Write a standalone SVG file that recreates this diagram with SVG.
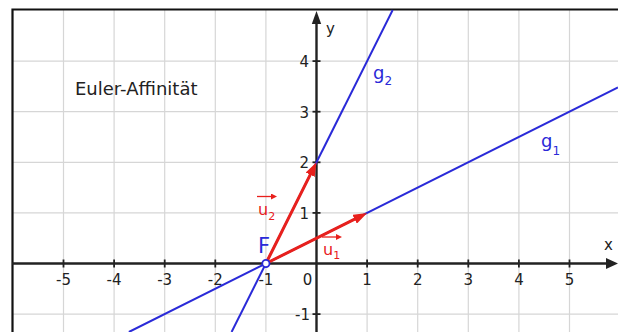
<svg xmlns="http://www.w3.org/2000/svg" width="618" height="332" viewBox="0 0 618 332">
<style>
.grid line{stroke:#d6d6d6;stroke-width:1.2}
.axis{stroke:#222;stroke-width:2.4;fill:none}
.tick{stroke:#222;stroke-width:1.8}
.lbl{font-family:"DejaVu Sans",Verdana,sans-serif;font-size:15px;fill:#222}
.blue{stroke:#2a2ad8;stroke-width:2;fill:none}
.vec{stroke:#e8201c;stroke-width:3;fill:none}
.small{stroke:#e8201c;stroke-width:1.3;fill:none}
.bt{font-family:"DejaVu Sans",Verdana,sans-serif;fill:#2a2ad8}
.rt{font-family:"DejaVu Sans",Verdana,sans-serif;fill:#e8201c}
</style>
<defs>
<marker id="ah" markerUnits="userSpaceOnUse" markerWidth="14" markerHeight="10" refX="4" refY="5" orient="auto">
<path d="M0,0 L14,5 L0,10 z" fill="#e8201c"/>
</marker>
<marker id="sh" markerUnits="userSpaceOnUse" markerWidth="6" markerHeight="6" refX="2" refY="3" orient="auto">
<path d="M0,0 L6,3 L0,6 z" fill="#e8201c"/>
</marker>
</defs>
<rect width="618" height="332" fill="#fff"/>
<g class="grid">
<line x1="63.5" y1="10" x2="63.5" y2="332"/>
<line x1="114.1" y1="10" x2="114.1" y2="332"/>
<line x1="164.7" y1="10" x2="164.7" y2="332"/>
<line x1="215.3" y1="10" x2="215.3" y2="332"/>
<line x1="265.9" y1="10" x2="265.9" y2="332"/>
<line x1="367.1" y1="10" x2="367.1" y2="332"/>
<line x1="417.7" y1="10" x2="417.7" y2="332"/>
<line x1="468.3" y1="10" x2="468.3" y2="332"/>
<line x1="518.9" y1="10" x2="518.9" y2="332"/>
<line x1="569.5" y1="10" x2="569.5" y2="332"/>
<line x1="12" y1="61.1" x2="618" y2="61.1"/>
<line x1="12" y1="111.7" x2="618" y2="111.7"/>
<line x1="12" y1="162.3" x2="618" y2="162.3"/>
<line x1="12" y1="212.9" x2="618" y2="212.9"/>
<line x1="12" y1="314.1" x2="618" y2="314.1"/>
</g>
<path d="M12.5,332 V9.5 H618" stroke="#111" stroke-width="2.2" fill="none"/>
<g id="axes">
<line class="axis" x1="12" y1="263.5" x2="608" y2="263.5"/>
<path d="M606,258 L618,263.5 L606,269 z" fill="#222"/>
<line class="axis" x1="316.5" y1="332" x2="316.5" y2="22"/>
<path d="M311.8,24 L316.5,11 L321.2,24 z" fill="#222"/>
<g class="tick">
<line x1="63.5" y1="259.5" x2="63.5" y2="267.5"/>
<line x1="114.1" y1="259.5" x2="114.1" y2="267.5"/>
<line x1="164.7" y1="259.5" x2="164.7" y2="267.5"/>
<line x1="215.3" y1="259.5" x2="215.3" y2="267.5"/>
<line x1="265.9" y1="259.5" x2="265.9" y2="267.5"/>
<line x1="367.1" y1="259.5" x2="367.1" y2="267.5"/>
<line x1="417.7" y1="259.5" x2="417.7" y2="267.5"/>
<line x1="468.3" y1="259.5" x2="468.3" y2="267.5"/>
<line x1="518.9" y1="259.5" x2="518.9" y2="267.5"/>
<line x1="569.5" y1="259.5" x2="569.5" y2="267.5"/>
<line x1="312.5" y1="61.1" x2="320.5" y2="61.1"/>
<line x1="312.5" y1="111.7" x2="320.5" y2="111.7"/>
<line x1="312.5" y1="162.3" x2="320.5" y2="162.3"/>
<line x1="312.5" y1="212.9" x2="320.5" y2="212.9"/>
<line x1="312.5" y1="314.1" x2="320.5" y2="314.1"/>
</g>
<g class="lbl" text-anchor="middle">
<text x="63.5" y="285">-5</text>
<text x="114.1" y="285">-4</text>
<text x="164.7" y="285">-3</text>
<text x="215.3" y="285">-2</text>
<text x="265.9" y="285">-1</text>
<text x="307.5" y="285">0</text>
<text x="367.1" y="285">1</text>
<text x="417.7" y="285">2</text>
<text x="468.3" y="285">3</text>
<text x="518.9" y="285">4</text>
<text x="569.5" y="285">5</text>
</g>
<g class="lbl" text-anchor="end">
<text x="309" y="67">4</text>
<text x="309" y="117.5">3</text>
<text x="309" y="168">2</text>
<text x="309" y="218.5">1</text>
<text x="310" y="320">-1</text>
</g>
<text class="lbl" x="326" y="34">y</text>
<text class="lbl" x="604" y="250">x</text>
</g>
<text x="75" y="95" font-family="'DejaVu Sans',Verdana,sans-serif" font-size="18" fill="#222">Euler-Affinität</text>
<g id="connectors">
<line id="g1" class="blue" x1="128.9" y1="332" x2="618" y2="87.5"/>
<line id="g2" class="blue" x1="231.6" y1="332" x2="392.7" y2="10"/>
<line id="u1" class="vec" x1="265.9" y1="263.5" x2="358.2" y2="217.4" marker-end="url(#ah)"/>
<line id="u2" class="vec" x1="265.9" y1="263.5" x2="312.0" y2="171.2" marker-end="url(#ah)"/>
</g>
<g id="F">
<circle cx="265.9" cy="263.5" r="3.6" fill="#fff" stroke="#2a2ad8" stroke-width="1.8"/>
<text class="bt" x="258" y="253" font-size="21">F</text>
</g>
<g id="label-g2"><text class="bt" x="373" y="79" font-size="18">g<tspan font-size="12" dy="6">2</tspan></text></g>
<g id="label-g1"><text class="bt" x="541" y="147" font-size="18">g<tspan font-size="12" dy="8">1</tspan></text></g>
<g id="label-u2">
<line class="small" x1="257" y1="196.5" x2="273" y2="196.5" marker-end="url(#sh)"/>
<text class="rt" x="258" y="215" font-size="16">u<tspan font-size="11" dy="5">2</tspan></text>
</g>
<g id="label-u1">
<line class="small" x1="322" y1="237" x2="338" y2="237" marker-end="url(#sh)"/>
<text class="rt" x="323" y="255" font-size="16">u<tspan font-size="11" dy="4">1</tspan></text>
</g>
</svg>
